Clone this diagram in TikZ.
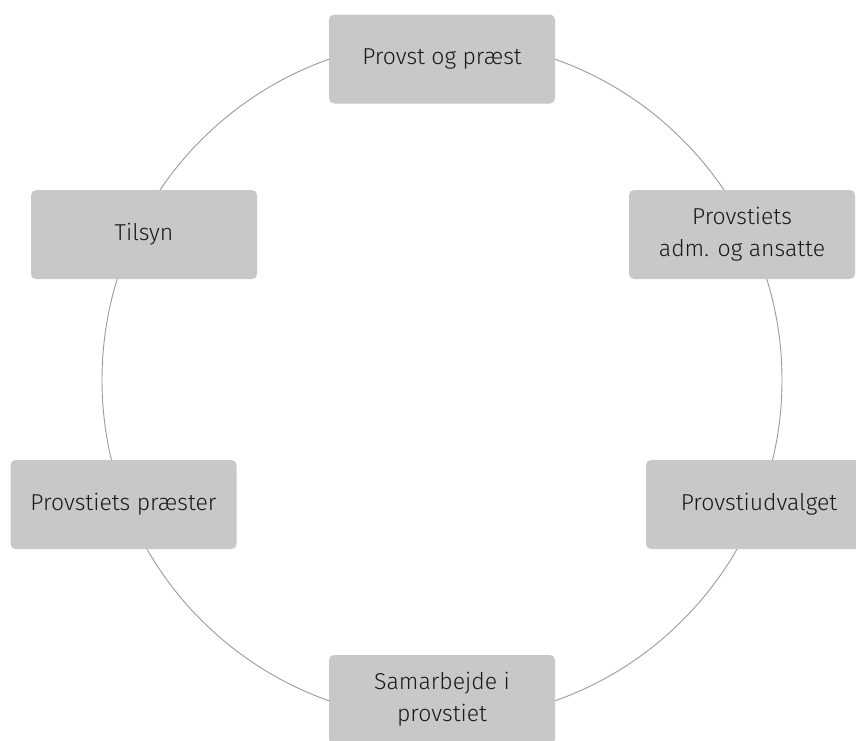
\documentclass[tikz,border=0pt]{standalone}
\usepackage{fontspec}
\setmainfont{Fira Sans}[UprightFont={* Light}]
\usepackage{xcolor}
\definecolor{boksgraa}{HTML}{C8C8C8}
\definecolor{ringgraa}{HTML}{9A9A9A}

\begin{document}
\begin{tikzpicture}[x=1pt,y=-1pt]
\tikzstyle{every node}+=[font=\fontsize{23}{32}\selectfont, text=black!90]
\tikzstyle{boks}=[fill=boksgraa, rounded corners=5pt, minimum width=226pt, minimum height=89pt, align=center, inner sep=0pt]
\useasboundingbox (0,0) rectangle (856,740);
\begin{scope}
\clip (0,0) rectangle (856,740);
\draw [ringgraa, line width=0.9pt] (442,380) circle (340);
\node [boks] (provst) at (442,59) {Provst og præst};
\node [boks] (adm) at (742,234.5) {Provstiets\\adm. og ansatte};
\node [boks] (udvalg) at (759,504.5) {Provstiudvalget};
\node [boks] (samarb) at (442,699.5) {Samarbejde i\\provstiet};
\node [boks] (praester) at (123.5,504.5) {Provstiets præster};
\node [boks] (tilsyn) at (144,234.5) {Tilsyn};
\end{scope}
\end{tikzpicture}
\end{document}
